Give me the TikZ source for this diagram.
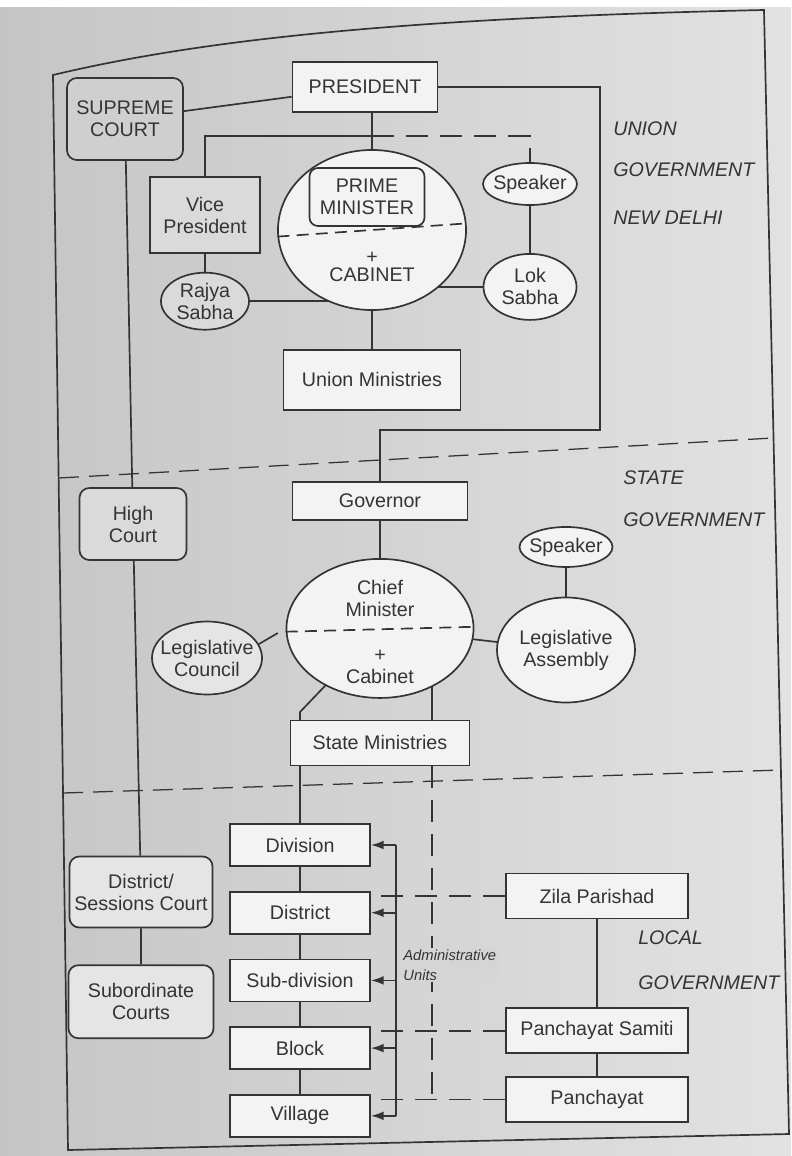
\documentclass[tikz,border=0pt]{standalone}
\usepackage{fontspec}
\setsansfont{Liberation Sans}
\usetikzlibrary{arrows.meta,positioning,shapes.geometric,backgrounds}
\usepackage{xcolor}
\definecolor{ink}{RGB}{52,52,52}
\definecolor{paper}{RGB}{243,243,243}
\definecolor{pageleft}{RGB}{196,197,196}
\definecolor{pageright}{RGB}{226,226,226}
\definecolor{pagemid}{RGB}{213,213,213}
\definecolor{shadedark}{RGB}{206,207,206}
\definecolor{shademid}{RGB}{218,218,218}
\definecolor{shadelight}{RGB}{229,229,229}

\begin{document}
\begin{tikzpicture}[
  x=0.025cm, y=-0.025cm,
  font=\sffamily\fontsize{14}{15.6}\selectfont,
  >={Latex[length=3.2mm,width=2.2mm]},
  box/.style={
    rectangle,
    draw=ink,
    line width=1.2pt,
    fill=#1,
    text=ink,
    align=center,
    inner sep=2pt
  },
  box/.default=paper,
  court/.style={box=#1, rounded corners=7pt},
  court/.default=shademid,
  oval/.style={ellipse, draw=ink, line width=1.2pt, fill=#1, inner sep=0pt},
  oval/.default=paper,
  ovaltext/.style={align=center, text=ink, inner sep=0pt},
  unit/.style={box, minimum width=3.5cm, minimum height=1.05cm},
  localbox/.style={box, minimum width=4.55cm, minimum height=1.125cm},
  link/.style={draw=ink, line width=1.2pt},
  dlink/.style={link, dash pattern=on 0.55cm off 0.3cm},
  divider/.style={draw=ink, line width=0.9pt, dash pattern=on 0.5cm off 0.25cm},
  tier/.style={
    anchor=north west,
    inner sep=0pt,
    align=left,
    text=ink,
    font=\sffamily\itshape\fontsize{14}{15.6}\selectfont
  }
]

% page, frame and level dividers
\useasboundingbox (0,0) rectangle (791,1156);
\begin{scope}[on background layer]
  \shade[left color=pageleft, right color=pageright] (0,0) rectangle (791,1156);
  \fill[white] (0,0) rectangle (791,7);
\end{scope}
\draw[link] (53,75) .. controls (200,40) and (400,18) .. (764,10) -- (789,1134) -- (68,1150) -- cycle;
\draw[divider] (59,478) -- (773,438);
\draw[divider] (63,793) -- (781,770);

% union government
\node[court=shadedark, minimum width=2.9cm, minimum height=2.05cm] (sc) at (125,119) {SUPREME\\COURT};
\node[box, minimum width=3.625cm, minimum height=1.25cm] (pres) at (365,87) {PRESIDENT};
\node[box=shademid, minimum width=2.75cm, minimum height=1.9cm] (vp) at (205,215) {Vice\\President};
\node[oval=shademid, minimum width=2.2cm, minimum height=1.425cm, below=0.45cm of vp] (raj) {};
\node[ovaltext] (rajt) at (raj) {Rajya\\Sabha};
\node[oval, minimum width=4.7cm, minimum height=4cm] (pmcab) at (372,230) {};
\draw[link, dash pattern=on 0.3cm off 0.18cm] (pmcab.184) -- (pmcab.4);
\node[court=paper, rounded corners=6pt, minimum width=2.875cm, minimum height=1.45cm] (pm) at (367,197) {PRIME\\MINISTER};
\node[ovaltext] (cabt) at (372,267) {+\\[-3pt]CABINET};
\node[oval, minimum width=2.35cm, minimum height=1.05cm] (spk1) at (530,184) {};
\node[ovaltext] (spk1t) at (spk1) {Speaker};
\node[oval, minimum width=2.325cm, minimum height=1.65cm, below=1.18cm of spk1] (lok) {};
\node[ovaltext] (lokt) at (lok) {Lok\\Sabha};
\node[box, minimum width=4.425cm, minimum height=1.5cm, below=0.95cm of pmcab] (um) {Union Ministries};
\coordinate (jn) at (372,136);
\coordinate (uturn) at (600,430);

% state government
\node[box, minimum width=4.375cm, minimum height=0.95cm] (gov) at (380,501) {Governor};
\node[oval, minimum width=4.675cm, minimum height=3.475cm, below=0.93cm of gov] (cm) {};
\draw[link, dash pattern=on 0.3cm off 0.18cm] (cm.182) -- (cm.1);
\node[ovaltext] (cmt) at (380,598) {Chief\\Minister};
\node[ovaltext] (cabt2) at (380,667) {+\\Cabinet};
\node[oval=shadelight, minimum width=2.75cm, minimum height=1.825cm] (lc) at (207,658) {};
\node[ovaltext] (lct) at (lc) {Legislative\\Council};
\node[oval, minimum width=3.45cm, minimum height=2.625cm] (la) at (566,650) {};
\node[ovaltext] (lat) at (la) {Legislative\\Assembly};
\node[oval, minimum width=2.325cm, minimum height=1cm, above=0.72cm of la] (spk2) {};
\node[ovaltext] (spk2t) at (spk2) {Speaker};
\node[box, minimum width=4.475cm, minimum height=1.125cm, below=0.52cm of cm] (sm) {State Ministries};
\coordinate (smx) at (432,700);
\coordinate (cmturn) at (300,712);

% courts
\node[court, minimum width=2.675cm, minimum height=1.8cm] (hc) at (133,524) {High\\Court};
\node[court=shadelight, minimum width=3.575cm, minimum height=1.775cm] (dsc) at (141,892) {District/\\Sessions Court};
\node[court=shadelight, minimum width=3.625cm, minimum height=1.825cm, below=0.9cm of dsc] (subc) {Subordinate\\Courts};

% local government
\node[unit] (div) at (300,845) {Division};
\node[unit, below=0.6cm of div] (dist) {District};
\node[unit, below=0.6cm of dist] (sub) {Sub-division};
\node[unit, below=0.6cm of sub] (blk) {Block};
\node[unit, below=0.6cm of blk] (vil) {Village};
\coordinate (admx) at (396,975);
\node[localbox] (zp) at (597,896) {Zila Parishad};
\node[localbox, below=2.2cm of zp] (ps) {Panchayat Samiti};
\node[localbox, below=0.55cm of ps] (pan) {Panchayat};

% level names
\node[tier] (uniongov) at (613,121) {UNION\\[0.5cm]GOVERNMENT\\[0.65cm]NEW DELHI};
\node[tier] (stategov) at (623,470) {STATE\\[0.52cm]GOVERNMENT};
\node[tier] (localgov) at (638,930) {LOCAL\\[0.6cm]GOVERNMENT};

% solid links behind the nodes
\begin{scope}[on background layer]
  \draw[link] (sc) -- (hc) -- (dsc) -- (subc);
  \draw[link] (sc) -- (pres);
  \draw[link] (pres.east) -| (uturn) -| (gov);
  \draw[link] (pres.south -| jn) -- (pmcab);
  \draw[link] (vp) |- (jn);
  \draw[link] (vp) -- (raj);
  \draw[link] (raj) -- (raj -| pmcab);
  \draw[link] (spk1) -- (lok);
  \draw[link] (lok) -- (lok -| pmcab);
  \draw[link] (pmcab) -- (pmcab |- um);
  \draw[link] (gov) -- (gov |- cm);
  \draw[link] (cm) -- (la);
  \draw[link] (spk2) -- (spk2 |- la);
  \draw[link] (smx |- cm) -- (smx |- sm);
  \draw[link] (cm) -- (cmturn) -- (cmturn |- div);
  \draw[link] (div) -- (vil);
  \draw[link] (zp) -- (zp |- pan);
\end{scope}

% dashed links
\draw[dlink] (jn) -| (spk1.north);
\draw[dlink] (lc.15) -- (cm.west);
\draw[dlink] (smx |- sm.south) -- (smx |- pan.west);
\draw[dlink] (zp.west) -- (zp.west -| dist.east);
\draw[dlink] (ps.west) -- (ps.west -| blk.east);
\draw[dlink] (pan.west) -- (pan.west -| vil.east);

% administrative units
\draw[link] (admx |- div.east) -- (admx |- vil.east);
\foreach \lvl in {div,dist,sub,blk,vil}
  \draw[link,->] (admx |- \lvl.east) -- (\lvl.east);
\node[anchor=west, align=left, inner sep=1.5pt, fill=pagemid, text=ink,
  font=\sffamily\itshape\fontsize{10.5}{14}\selectfont] (admlabel) at (401,965) {Administrative\\Units};

\end{tikzpicture}
\end{document}
